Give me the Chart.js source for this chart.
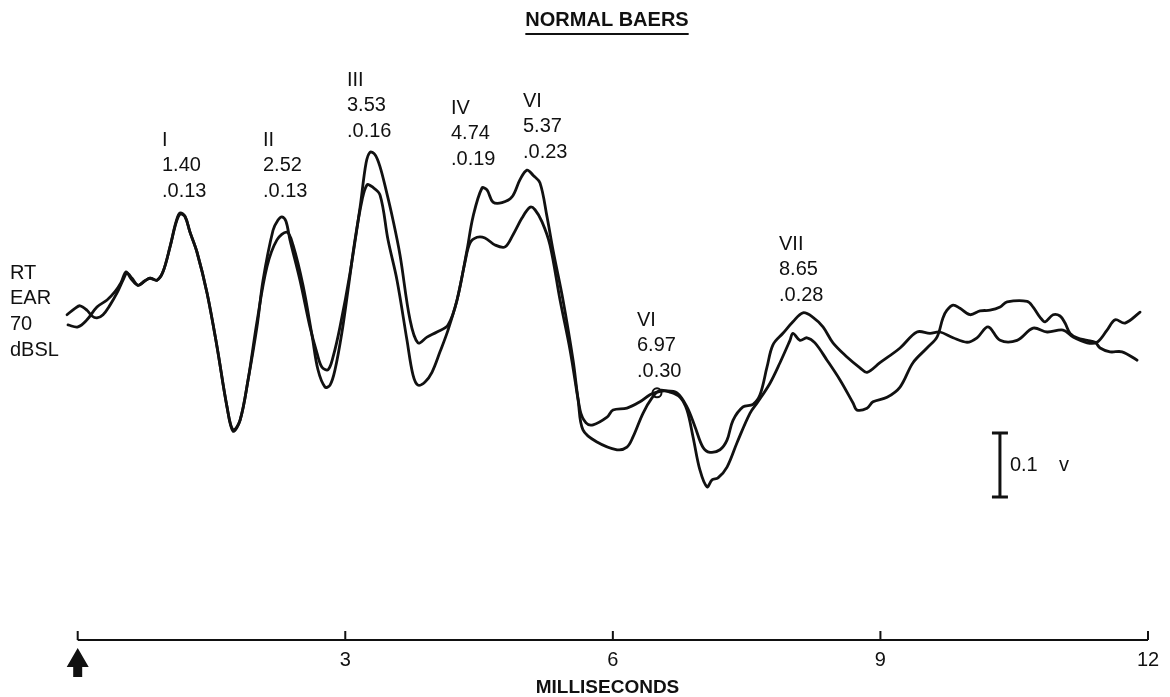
<!DOCTYPE html>
<html>
<head>
<meta charset="utf-8">
<script src="https://cdn.jsdelivr.net/npm/chart.js@4/dist/chart.umd.min.js"></script>
<style>
  html, body { margin: 0; padding: 0; background: #fff; }
</style>
</head>
<body>
<canvas id="baer" width="1170" height="697"></canvas>
<script>
// latency in ms, amplitude in the units of the 0.1 scale bar
const timesA = [-0.120,-0.030,0.026,0.104,0.160,0.216,0.284,0.362,0.441,0.508,
  0.553,0.609,0.676,0.755,0.811,0.889,0.956,1.035,1.102,1.147,
  1.203,1.259,1.337,1.450,1.562,1.674,1.742,1.820,1.910,2.010,
  2.078,2.190,2.246,2.290,2.335,2.380,2.492,2.604,2.683,2.739,
  2.807,2.863,2.941,3.053,3.166,3.233,3.278,3.334,3.390,3.457,
  3.535,3.614,3.726,3.815,3.916,4.028,4.152,4.253,4.365,4.432,
  4.533,4.589,4.656,4.757,4.869,4.959,5.037,5.105,5.183,5.262,
  5.329,5.441,5.554,5.632,5.699,5.778,5.935,6.002,6.158,6.304,
  6.416,6.495,6.585,6.719,6.831,6.921,7.010,7.089,7.201,7.280,
  7.347,7.459,7.571,7.650,7.728,7.795,7.907,8.019,8.132,8.244,
  8.356,8.468,8.625,8.771,8.849,8.995,9.220,9.410,9.556,9.668,
  9.814,9.971,10.083,10.207,10.342,10.532,10.712,10.869,11.048,11.160,
  11.317,11.429,11.541,11.631,11.743,11.911];
const ampA = [-0.023,-0.013,-0.009,-0.016,-0.025,-0.028,-0.023,-0.008,0.011,0.031,
  0.042,0.034,0.023,0.030,0.034,0.031,0.044,0.083,0.122,0.136,
  0.131,0.106,0.075,0.011,-0.073,-0.167,-0.203,-0.188,-0.125,-0.042,
  0.031,0.109,0.125,0.130,0.123,0.094,0.031,-0.042,-0.083,-0.105,
  -0.109,-0.089,-0.042,0.042,0.145,0.214,0.231,0.227,0.208,0.172,
  0.125,0.070,-0.031,-0.067,-0.058,-0.050,-0.039,0.000,0.078,0.130,
  0.175,0.172,0.153,0.152,0.161,0.188,0.203,0.195,0.183,0.130,
  0.078,0.000,-0.094,-0.172,-0.192,-0.195,-0.183,-0.172,-0.169,-0.159,
  -0.148,-0.144,-0.142,-0.145,-0.167,-0.198,-0.230,-0.238,-0.234,-0.219,
  -0.188,-0.167,-0.163,-0.148,-0.105,-0.070,-0.052,-0.034,-0.020,-0.027,
  -0.042,-0.067,-0.089,-0.106,-0.113,-0.098,-0.075,-0.050,-0.052,-0.050,
  -0.059,-0.066,-0.059,-0.042,-0.063,-0.063,-0.044,-0.050,-0.047,-0.058,
  -0.067,-0.066,-0.047,-0.031,-0.036,-0.019];

const timesB = [-0.109,0.003,0.104,0.216,0.329,0.418,0.485,0.542,0.598,0.676,
  0.755,0.811,0.889,0.956,1.035,1.102,1.147,1.203,1.259,1.337,
  1.450,1.562,1.674,1.742,1.820,1.910,2.010,2.122,2.234,2.346,
  2.414,2.526,2.627,2.694,2.773,2.829,2.885,2.963,3.031,3.109,
  3.188,3.244,3.300,3.390,3.479,3.580,3.692,3.759,3.815,3.894,
  3.972,4.062,4.152,4.253,4.342,4.398,4.477,4.566,4.679,4.791,
  4.881,4.981,5.071,5.127,5.206,5.295,5.408,5.520,5.610,5.665,
  5.822,6.047,6.158,6.226,6.338,6.439,6.529,6.641,6.753,6.831,
  6.899,6.977,7.056,7.112,7.179,7.280,7.392,7.537,7.627,7.762,
  7.874,7.986,8.019,8.098,8.177,8.266,8.401,8.547,8.693,8.738,
  8.850,8.917,9.074,9.220,9.365,9.522,9.634,9.701,9.746,9.814,
  9.892,10.005,10.117,10.229,10.342,10.420,10.645,10.712,10.790,10.846,
  10.936,11.014,11.070,11.126,11.205,11.317,11.407,11.463,11.575,11.709,11.878];
const ampB = [-0.039,-0.042,-0.031,-0.011,0.000,0.013,0.027,0.044,0.033,0.023,
  0.030,0.034,0.031,0.044,0.083,0.120,0.134,0.130,0.106,0.075,
  0.011,-0.073,-0.167,-0.205,-0.188,-0.125,-0.034,0.052,0.094,0.106,
  0.086,0.023,-0.055,-0.109,-0.136,-0.133,-0.109,-0.050,0.016,0.094,
  0.156,0.180,0.177,0.164,0.094,0.031,-0.063,-0.117,-0.133,-0.128,
  -0.113,-0.081,-0.047,0.000,0.059,0.089,0.098,0.097,0.086,0.083,
  0.102,0.128,0.145,0.141,0.122,0.086,0.000,-0.078,-0.156,-0.203,
  -0.222,-0.234,-0.230,-0.214,-0.177,-0.153,-0.141,-0.144,-0.152,-0.172,
  -0.214,-0.266,-0.292,-0.281,-0.278,-0.261,-0.223,-0.177,-0.159,-0.130,
  -0.098,-0.063,-0.052,-0.063,-0.059,-0.067,-0.094,-0.125,-0.161,-0.172,
  -0.169,-0.159,-0.152,-0.136,-0.098,-0.075,-0.058,-0.028,-0.016,-0.008,
  -0.013,-0.023,-0.017,-0.016,-0.011,-0.003,-0.002,-0.011,-0.027,-0.034,
  -0.023,-0.025,-0.036,-0.052,-0.059,-0.063,-0.066,-0.075,-0.081,-0.081,-0.094];

// the little open circle on the wave VI peak
const markerTime = [6.495];
const markerAmp = [-0.145];

const tickValues = [0, 3, 6, 9, 12];

const peakNames = ['I', 'II', 'III', 'IV', 'VI', 'VI', 'VII'];
const peakLatencies = ['1.40', '2.52', '3.53', '4.74', '5.37', '6.97', '8.65'];
const peakAmplitudes = ['.0.13', '.0.13', '.0.16', '.0.19', '.0.23', '.0.30', '.0.28'];
const earLabel = ['RT', 'EAR', '70', 'dBSL'];

const ink = '#111';
const FONT = '"Liberation Sans", Arial, Helvetica, sans-serif';

// where each peak label block sits (left edge, first line middle)
const peakLabelPos = [[162, 140], [263, 140], [347, 80], [451, 108], [523, 101], [637, 320], [779, 244]];

const baerDecor = {
  id: 'baerDecor',
  afterDraw(chart) {
    const { ctx, chartArea } = chart;
    const x = chart.scales.x;
    const y = chart.scales.y;
    ctx.save();
    ctx.strokeStyle = ink;
    ctx.fillStyle = ink;

    // time axis with short upward ticks
    const axisY = chartArea.bottom;
    ctx.lineWidth = 2;
    ctx.beginPath();
    ctx.moveTo(x.getPixelForValue(0), axisY);
    ctx.lineTo(x.getPixelForValue(12), axisY);
    tickValues.forEach(v => {
      const px = x.getPixelForValue(v);
      ctx.moveTo(px, axisY);
      ctx.lineTo(px, axisY - 9);
    });
    ctx.stroke();

    // stimulus arrow at time 0
    const ax = x.getPixelForValue(0);
    ctx.beginPath();
    ctx.moveTo(ax, axisY + 8);
    ctx.lineTo(ax + 11, axisY + 27);
    ctx.lineTo(ax + 4.5, axisY + 27);
    ctx.lineTo(ax + 4.5, axisY + 37);
    ctx.lineTo(ax - 4.5, axisY + 37);
    ctx.lineTo(ax - 4.5, axisY + 27);
    ctx.lineTo(ax - 11, axisY + 27);
    ctx.closePath();
    ctx.fill();

    // title, underlined
    ctx.font = 'bold 20px ' + FONT;
    ctx.textAlign = 'center';
    ctx.textBaseline = 'middle';
    const title = 'NORMAL BAERS';
    ctx.fillText(title, 607, 20);
    const tw = ctx.measureText(title).width;
    ctx.fillRect(607 - tw / 2, 33, tw, 2);

    // peak labels
    ctx.font = '20px ' + FONT;
    ctx.textAlign = 'left';
    peakNames.forEach((name, i) => {
      const [lx, ly] = peakLabelPos[i];
      ctx.fillText(name, lx, ly);
      ctx.fillText(peakLatencies[i], lx, ly + 25.7);
      ctx.fillText(peakAmplitudes[i], lx, ly + 51.4);
    });

    // recording side / level
    earLabel.forEach((t, i) => ctx.fillText(t, 10, 273 + i * 25.7));

    // 0.1 calibration bar, sized through the amplitude scale
    const bx = x.getPixelForValue(10.34);
    const bTop = y.getPixelForValue(-0.208);
    const bBot = y.getPixelForValue(-0.308);
    ctx.lineWidth = 3;
    ctx.beginPath();
    ctx.moveTo(bx, bTop); ctx.lineTo(bx, bBot);
    ctx.moveTo(bx - 8, bTop); ctx.lineTo(bx + 8, bTop);
    ctx.moveTo(bx - 8, bBot); ctx.lineTo(bx + 8, bBot);
    ctx.stroke();
    ctx.fillText('0.1', bx + 10, (bTop + bBot) / 2);
    ctx.fillText('v', bx + 59, (bTop + bBot) / 2);

    ctx.restore();
  }
};

const traceStyle = {
  borderColor: ink,
  borderWidth: 2.8,
  pointRadius: 0,
  fill: false,
  tension: 0.35,
  borderJoinStyle: 'round',
  borderCapStyle: 'round',
  clip: false
};

new Chart(document.getElementById('baer').getContext('2d'), {
  type: 'line',
  data: {
    datasets: [
      { ...traceStyle, label: 'trace A', data: timesA.map((t, i) => ({ x: t, y: ampA[i] })) },
      { ...traceStyle, label: 'trace B', data: timesB.map((t, i) => ({ x: t, y: ampB[i] })) },
      {
        label: 'peak VI',
        data: markerTime.map((t, i) => ({ x: t, y: markerAmp[i] })),
        showLine: false,
        pointRadius: 4.5,
        pointBackgroundColor: '#fff',
        pointBorderColor: ink,
        pointBorderWidth: 2
      }
    ]
  },
  options: {
    responsive: false,
    animation: false,
    devicePixelRatio: 1,
    layout: { padding: { left: 67, right: 22, top: 44, bottom: 0 } },
    plugins: {
      legend: { display: false },
      tooltip: { enabled: false },
      title: { display: false }
    },
    scales: {
      x: {
        type: 'linear',
        min: -0.12,
        max: 12,
        afterBuildTicks: (scale) => { scale.ticks = tickValues.map(v => ({ value: v })); },
        afterFit: (scale) => { scale.height = 57; },
        grid: { display: false, drawTicks: false },
        border: { display: false },
        ticks: {
          autoSkip: false,
          maxRotation: 0,
          padding: 8,
          color: ink,
          font: { family: FONT, size: 20 },
          callback: (v) => (v === 0 ? '' : String(v))
        },
        title: {
          display: true,
          text: 'MILLISECONDS',
          color: ink,
          font: { family: FONT, size: 19, weight: 'bold', lineHeight: 1 },
          padding: { top: 0, bottom: 0 }
        }
      },
      y: {
        display: false,
        min: -0.53125,
        max: 0.4
      }
    }
  },
  plugins: [baerDecor]
});
</script>
</body>
</html>
